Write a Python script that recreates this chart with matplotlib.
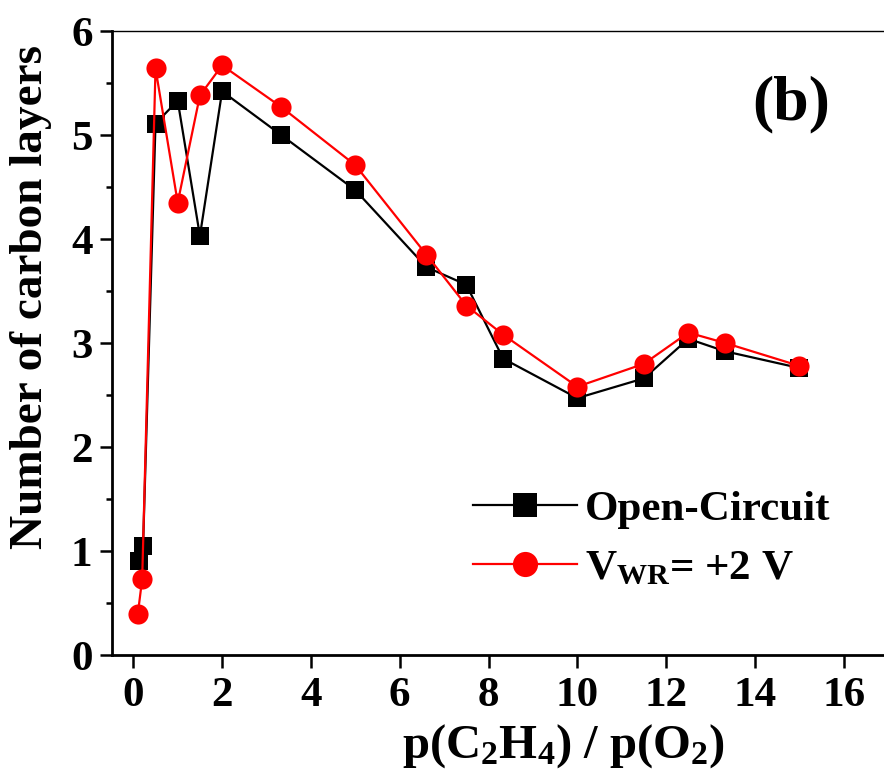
import matplotlib
matplotlib.use("Agg")
import matplotlib.pyplot as plt
from matplotlib.ticker import MultipleLocator

plt.rcParams['font.family'] = ['Liberation Serif', 'DejaVu Serif']
plt.rcParams['font.weight'] = 'bold'
plt.rcParams['mathtext.fontset'] = 'custom'
plt.rcParams['mathtext.rm'] = 'Liberation Serif:bold'
plt.rcParams['mathtext.it'] = 'Liberation Serif:bold'
plt.rcParams['mathtext.bf'] = 'Liberation Serif:bold'

# data
ratio = [0.12, 0.22, 0.5, 1.0, 1.5, 2.0, 3.33, 5.0, 6.6, 7.5, 8.33, 10.0, 11.5, 12.5, 13.33, 15.0]
ratio_red = [0.1, 0.2, 0.5, 1.0, 1.5, 2.0, 3.33, 5.0, 6.6, 7.5, 8.33, 10.0, 11.5, 12.5, 13.33, 15.0]
open_circuit = [0.90, 1.05, 5.11, 5.33, 4.03, 5.42, 5.00, 4.47, 3.73, 3.56, 2.85, 2.47, 2.66, 3.04, 2.92, 2.76]
vwr_plus2 = [0.39, 0.73, 5.64, 4.35, 5.38, 5.67, 5.27, 4.71, 3.85, 3.36, 3.08, 2.58, 2.80, 3.10, 3.00, 2.78]
x_ticks = [0, 2, 4, 6, 8, 10, 12, 14, 16]
y_ticks = [0, 1, 2, 3, 4, 5, 6]

W, H = 884, 784
fig = plt.figure(figsize=(W / 100, H / 100), dpi=100)
xmin, xmax = -0.48, 17.5
px_per_unit = 44.4
left_px = 112
right_px = left_px + (xmax - xmin) * px_per_unit
ax_w = right_px - left_px
ax = fig.add_axes([left_px / W, (H - 655) / H, ax_w / W, (655 - 31) / H])

ax.plot(ratio, open_circuit, color='black', lw=1.6, marker='s', ms=13.5, mew=0,
        label='Open-Circuit', zorder=3)
ax.plot(ratio_red, vwr_plus2, color='#ff0000', lw=1.6, marker='o', ms=14.5, mew=0,
        label=r'V$_{\mathbf{WR}}$= +2 V', zorder=4)

ax.set_xlim(xmin, xmax)
ax.set_ylim(0, 6)
ax.set_xticks(x_ticks)
ax.set_yticks(y_ticks)
ax.yaxis.set_minor_locator(MultipleLocator(0.5))

for s in ['left', 'bottom']:
    ax.spines[s].set_linewidth(2)
ax.spines['top'].set_linewidth(1)
ax.spines['right'].set_visible(False)

ax.tick_params(axis='both', which='major', direction='out', length=9, width=1.8,
               labelsize=31, pad=5)
ax.tick_params(axis='x', which='major', pad=7)
ax.tick_params(axis='y', which='minor', direction='out', length=4.5, width=1.8)
ax.tick_params(top=False, right=False)
for lab in ax.get_xticklabels() + ax.get_yticklabels():
    lab.set_fontweight('bold')

ax.set_ylabel('Number of carbon layers', fontsize=34, fontweight='bold')
ax.yaxis.set_label_coords((52 - left_px) / ax_w, (655 - 297) / 624)
ax.set_xlabel(r'p(C$_2$H$_4$) / p(O$_2$)', fontsize=35, fontweight='bold')
ax.xaxis.set_label_coords((563 - left_px) / ax_w, (655 - 722) / 624)

ax.text(752 / W, 1 - 104 / H, '(b)', transform=fig.transFigure, fontsize=46,
        fontweight='bold', ha='left', va='center')

leg = ax.legend(loc='upper left', bbox_to_anchor=(456 / W, (H - 473) / H),
                bbox_transform=fig.transFigure, frameon=False,
                prop={'size': 31, 'weight': 'bold'}, handlelength=2.4,
                handletextpad=0.2, labelspacing=0.45, borderaxespad=0,
                markerscale=1.25)

fig.savefig('out.png', dpi=100)
